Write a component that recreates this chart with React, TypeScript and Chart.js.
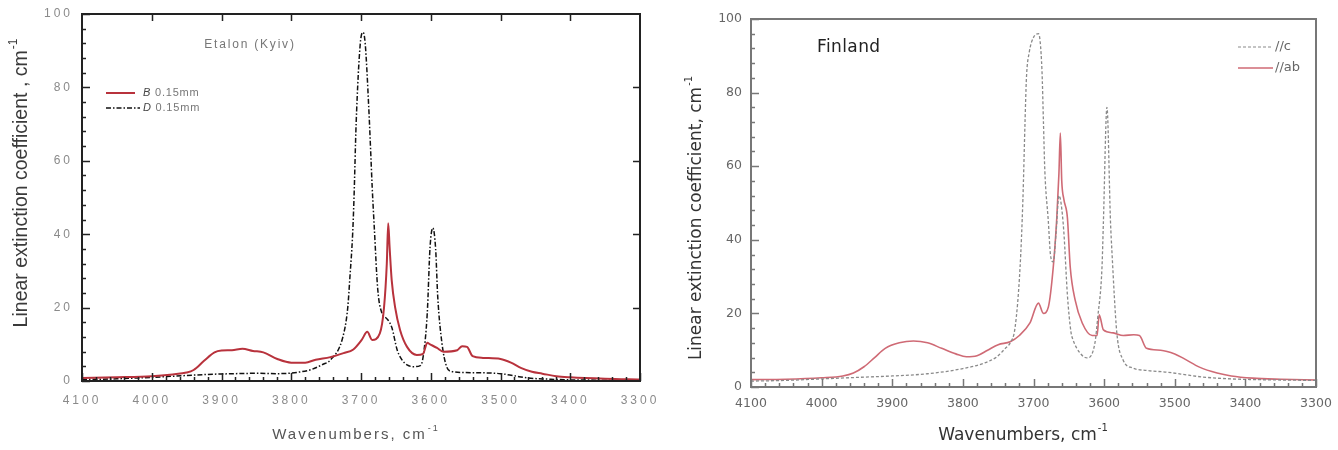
import React, { useEffect, useRef } from "react";
import { Chart, registerables } from "chart.js";
Chart.register(...registerables);

// ---------- Data: left panel "Etalon (Kyiv)" ----------
const leftWaveB = [4100, 4050, 4000, 3970, 3950, 3940, 3925, 3910, 3900, 3885, 3870, 3855, 3840, 3820, 3800, 3780, 3765, 3744, 3725, 3711, 3699, 3691, 3684, 3673, 3667, 3663, 3661, 3659, 3656, 3651, 3644, 3634, 3620, 3611, 3605, 3601, 3591, 3582, 3562, 3555, 3548, 3540, 3525, 3500, 3485, 3470, 3455, 3440, 3420, 3400, 3350, 3300];
const leftB = [0.8, 1.0, 1.3, 1.8, 2.3, 3.0, 5.5, 7.8, 8.3, 8.4, 8.8, 8.2, 7.8, 6.0, 5.0, 5.0, 5.8, 6.5, 7.6, 8.6, 11.2, 13.4, 11.2, 13, 20, 32, 43, 36.5, 27.5, 20, 13.9, 9.3, 7.1, 7.4, 10.4, 10, 9, 8, 8.4, 9.5, 9.3, 6.8, 6.3, 6.0, 5.0, 3.5, 2.5, 2.0, 1.3, 1.0, 0.6, 0.4];
const leftWaveD = [4100, 4050, 4000, 3950, 3920, 3880, 3850, 3820, 3790, 3770, 3755, 3744, 3726, 3719, 3716, 3712, 3710, 3707, 3701, 3697, 3694, 3689, 3686, 3684, 3681, 3676, 3670, 3663, 3656, 3648, 3641, 3634, 3625, 3615, 3611, 3605, 3601, 3597, 3593, 3590, 3584, 3577, 3570, 3550, 3520, 3500, 3480, 3460, 3430, 3400, 3300];
const leftD = [0.4, 0.6, 1.0, 1.5, 1.8, 2.0, 2.1, 2.0, 2.4, 3.2, 4.5, 5.7, 12, 20, 28, 40, 50, 70, 92, 95, 92, 75, 62, 53, 42, 25, 18.5, 17, 14.7, 8.4, 5.7, 4.4, 3.9, 4.2, 6.5, 18.5, 36.5, 41.7, 36, 23, 10.4, 3.8, 2.6, 2.3, 2.2, 2.0, 1.4, 0.8, 0.5, 0.3, 0.2];

// ---------- Data: right panel "Finland" ----------
const rightWaveC = [4100, 4050, 4000, 3950, 3900, 3850, 3800, 3770, 3752, 3740, 3733, 3726, 3719, 3715, 3712, 3710, 3706, 3700, 3693, 3688, 3686, 3684, 3679, 3676, 3672, 3668, 3664, 3661, 3657, 3652, 3647, 3644, 3634, 3624, 3613, 3609, 3603, 3601, 3596, 3591, 3589, 3582, 3573, 3560, 3540, 3510, 3480, 3460, 3420, 3350, 3300];
const rightC = [1.6, 1.8, 2.2, 2.6, 3.0, 3.6, 5.0, 6.5, 8.2, 10.5, 12, 16.3, 32.6, 51, 72, 84, 91, 95, 96, 86, 72.5, 59, 45, 36, 34, 42, 52, 50, 42, 25, 15, 12.8, 9.2, 7.9, 12, 19, 32.6, 45, 76, 45, 37, 14.7, 7.3, 5.2, 4.5, 4, 3.2, 2.7, 2.2, 1.9, 1.8];
const rightWaveAB = [4100, 4050, 4000, 3970, 3955, 3940, 3925, 3910, 3890, 3870, 3850, 3830, 3810, 3795, 3780, 3765, 3750, 3733, 3720, 3705, 3693, 3686, 3679, 3672, 3667, 3664, 3662, 3660, 3657, 3652, 3648, 3641, 3631, 3617, 3610, 3607, 3601, 3587, 3573, 3558, 3550, 3540, 3520, 3500, 3485, 3465, 3440, 3420, 3390, 3350, 3300];
const rightAB = [2.0, 2.1, 2.5, 3.0, 3.8, 5.5, 8, 10.5, 12, 12.5, 12, 10.5, 9, 8.2, 8.5, 10, 11.5, 12.3, 14, 17.4, 22.8, 20, 21.7, 32.6, 46, 58, 69, 56, 51, 46, 32.6, 23.6, 17.4, 14, 14, 19.6, 15.5, 14.7, 14, 14.2, 14, 10.5, 10, 9, 7.5, 5.4, 3.8, 3, 2.4, 2.1, 1.9];

// ---------- Axes / labels ----------
const xMin = 3300;
const xMax = 4100;
const xStep = 100;
const yMin = 0;
const yMax = 100;
const yStep = 20;
const leftTitle = "Etalon (Kyiv)";
const rightTitle = "Finland";
const leftYTitle = "Linear extinction coefficient , cm";
const rightYTitle = "Linear extinction coefficient, cm";
const xTitle = "Wavenumbers, cm";
const unitSup = "-1";
const leftLabels = ["B 0.15mm", "D 0.15mm"];
const rightLabels = ["//c", "//ab"];

const FONT_L = '"Liberation Sans", Arial, sans-serif';
const FONT_R = '"DejaVu Sans", Verdana, sans-serif';

function pts(w: number[], v: number[]) {
  return w.map((x, i) => ({ x, y: v[i] }));
}

function drawSupText(ctx: CanvasRenderingContext2D, text: string, sup: string, x: number, y: number, size: number, family: string, color: string, spacing: string, rotate: boolean) {
  ctx.save();
  ctx.translate(x, y);
  if (rotate) ctx.rotate(-Math.PI / 2);
  ctx.fillStyle = color;
  (ctx as any).letterSpacing = spacing;
  const mainFont = `${size}px ${family}`;
  const supFont = `${Math.round(size * 0.6)}px ${family}`;
  ctx.font = mainFont;
  const w1 = ctx.measureText(text).width;
  ctx.font = supFont;
  const w2 = ctx.measureText(sup).width;
  const total = w1 + w2 + 1;
  ctx.textBaseline = "middle";
  ctx.textAlign = "left";
  ctx.font = mainFont;
  ctx.fillText(text, -total / 2, 0);
  ctx.font = supFont;
  ctx.fillText(sup, -total / 2 + w1 + 1, -size * 0.45);
  ctx.restore();
}

type PanelCfg = {
  width: number;
  area: { left: number; top: number; right: number; bottom: number };
  datasets: any[];
  tickColor: string;
  tickFont: number;
  tickFamily: string;
  tickSpacing: string;
  frameColor: string;
  topRightTicks: boolean;
  xLabelPad: number;
  yLabelPad: number;
  decorate: (ctx: CanvasRenderingContext2D, chart: any) => void;
};

function Panel({ cfg }: { cfg: PanelCfg }) {
  const ref = useRef<HTMLCanvasElement | null>(null);
  useEffect(() => {
    const canvas = ref.current!;
    const H = 450;
    const a = cfg.area;
    const plugin = {
      id: "frameTicks",
      beforeDraw(chart: any) {
        (chart.ctx as any).letterSpacing = cfg.tickSpacing;
      },
      afterDraw(chart: any) {
        const ctx: CanvasRenderingContext2D = chart.ctx;
        const ca = chart.chartArea;
        const xs = chart.scales.x;
        const ys = chart.scales.y;
        ctx.save();
        (ctx as any).letterSpacing = "0px";
        ctx.strokeStyle = cfg.frameColor;
        ctx.lineWidth = 2;
        ctx.strokeRect(ca.left, ca.top, ca.right - ca.left, ca.bottom - ca.top);
        ctx.lineWidth = 1.5;
        ctx.beginPath();
        for (let v = xMin; v <= xMax; v += 20) {
          const px = Math.round(xs.getPixelForValue(v)) + 0.5;
          const major = v % xStep === 0;
          ctx.moveTo(px, ca.bottom);
          ctx.lineTo(px, ca.bottom - (major ? 8 : 4));
          if (cfg.topRightTicks && major && v !== xMin && v !== xMax) {
            ctx.moveTo(px, ca.top);
            ctx.lineTo(px, ca.top + 7);
          }
        }
        for (let v = yMin; v <= yMax; v += 4) {
          const py = Math.round(ys.getPixelForValue(v)) + 0.5;
          const major = v % yStep === 0;
          ctx.moveTo(ca.left, py);
          ctx.lineTo(ca.left + (major ? 8 : 4), py);
          if (cfg.topRightTicks && major && v !== yMin && v !== yMax) {
            ctx.moveTo(ca.right, py);
            ctx.lineTo(ca.right - 7, py);
          }
        }
        ctx.stroke();
        ctx.restore();
        ctx.save();
        (ctx as any).letterSpacing = "0px";
        cfg.decorate(ctx, chart);
        ctx.restore();
      },
    };
    const chart = new Chart(canvas, {
      type: "line",
      data: { datasets: cfg.datasets },
      options: {
        responsive: false,
        animation: false,
        devicePixelRatio: 1,
        layout: { padding: { left: 0, top: a.top, right: cfg.width - a.right, bottom: 0 } },
        plugins: { legend: { display: false }, title: { display: false }, tooltip: { enabled: false } },
        elements: { point: { radius: 0 } },
        scales: {
          x: {
            type: "linear",
            reverse: true,
            min: xMin,
            max: xMax,
            grid: { display: false, drawTicks: false },
            border: { display: false },
            ticks: { stepSize: xStep, color: cfg.tickColor, padding: cfg.xLabelPad, maxRotation: 0, font: { family: cfg.tickFamily, size: cfg.tickFont }, callback: (v: any) => String(v) },
            afterFit: (s: any) => { s.height = H - a.bottom; s.paddingLeft = 0; s.paddingRight = 0; },
          },
          y: {
            type: "linear",
            min: yMin,
            max: yMax,
            grid: { display: false, drawTicks: false },
            border: { display: false },
            ticks: { stepSize: yStep, color: cfg.tickColor, padding: cfg.yLabelPad, font: { family: cfg.tickFamily, size: cfg.tickFont }, callback: (v: any) => String(v) },
            afterFit: (s: any) => { s.width = a.left; s.paddingTop = 0; s.paddingBottom = 0; },
          },
        },
      },
      plugins: [plugin],
    } as any);
    return () => chart.destroy();
  }, []);
  return <canvas ref={ref} width={cfg.width} height={450} style={{ display: "block", width: cfg.width, height: 450 }} />;
}

const leftCfg: PanelCfg = {
  width: 660,
  area: { left: 82, top: 14, right: 640, bottom: 381 },
  tickColor: "#8a8a8a",
  tickFont: 12,
  tickFamily: FONT_L,
  tickSpacing: "3px",
  frameColor: "#222",
  topRightTicks: true,
  xLabelPad: 12,
  yLabelPad: 9,
  datasets: [
    { label: leftLabels[0], data: pts(leftWaveB, leftB), borderColor: "#b8323c", borderWidth: 2, cubicInterpolationMode: "monotone", pointRadius: 0 },
    { label: leftLabels[1], data: pts(leftWaveD, leftD), borderColor: "#111", borderWidth: 1.5, borderDash: [5, 2, 1.5, 2], cubicInterpolationMode: "monotone", pointRadius: 0 },
  ],
  decorate: (ctx) => {
    drawSupText(ctx, leftYTitle, unitSup, 22, 183, 19.5, FONT_L, "#3a3a3a", "0px", true);
    drawSupText(ctx, xTitle, unitSup, 356, 435, 15, FONT_L, "#555", "2px", false);
    ctx.fillStyle = "#777";
    ctx.font = `12px ${FONT_L}`;
    (ctx as any).letterSpacing = "1.8px";
    ctx.textAlign = "center";
    ctx.textBaseline = "middle";
    ctx.fillText(leftTitle, 250, 45);
    // legend
    (ctx as any).letterSpacing = "0.8px";
    ctx.textAlign = "left";
    ctx.strokeStyle = "#b8323c";
    ctx.lineWidth = 2;
    ctx.beginPath(); ctx.moveTo(106, 93); ctx.lineTo(135, 93); ctx.stroke();
    ctx.strokeStyle = "#111";
    ctx.lineWidth = 1.5;
    ctx.setLineDash([5, 2, 1.5, 2]);
    ctx.beginPath(); ctx.moveTo(106, 108); ctx.lineTo(140, 108); ctx.stroke();
    ctx.setLineDash([]);
    const rows: [string, number][] = [[leftLabels[0], 93], [leftLabels[1], 108]];
    rows.forEach(([lab, y]) => {
      const first = lab.slice(0, 1);
      const rest = lab.slice(1);
      ctx.fillStyle = "#444";
      ctx.font = `italic 11px ${FONT_L}`;
      ctx.fillText(first, 143, y);
      const w = ctx.measureText(first).width;
      ctx.fillStyle = "#777";
      ctx.font = `11px ${FONT_L}`;
      ctx.fillText(rest, 143 + w, y);
    });
  },
};

const rightCfg: PanelCfg = {
  width: 678,
  area: { left: 91, top: 19, right: 656, bottom: 387 },
  tickColor: "#666",
  tickFont: 12.5,
  tickFamily: FONT_R,
  tickSpacing: "0px",
  frameColor: "#777",
  topRightTicks: false,
  xLabelPad: 9,
  yLabelPad: 9,
  datasets: [
    { label: rightLabels[0], data: pts(rightWaveC, rightC), borderColor: "#8a8a8a", borderWidth: 1.3, borderDash: [3, 2], cubicInterpolationMode: "monotone", pointRadius: 0 },
    { label: rightLabels[1], data: pts(rightWaveAB, rightAB), borderColor: "#cf6a75", borderWidth: 1.6, cubicInterpolationMode: "monotone", pointRadius: 0 },
  ],
  decorate: (ctx) => {
    drawSupText(ctx, rightYTitle, unitSup, 37, 218, 17, FONT_R, "#333", "0px", true);
    drawSupText(ctx, xTitle, unitSup, 363, 436, 17, FONT_R, "#333", "0px", false);
    ctx.fillStyle = "#222";
    ctx.font = `17px ${FONT_R}`;
    (ctx as any).letterSpacing = "0.4px";
    ctx.textAlign = "left";
    ctx.textBaseline = "middle";
    ctx.fillText(rightTitle, 157, 48);
    (ctx as any).letterSpacing = "0px";
    // legend
    ctx.strokeStyle = "#8a8a8a";
    ctx.lineWidth = 1.2;
    ctx.setLineDash([3, 2]);
    ctx.beginPath(); ctx.moveTo(578, 47); ctx.lineTo(613, 47); ctx.stroke();
    ctx.setLineDash([]);
    ctx.strokeStyle = "#cf6a75";
    ctx.lineWidth = 1.6;
    ctx.beginPath(); ctx.moveTo(578, 68); ctx.lineTo(613, 68); ctx.stroke();
    ctx.fillStyle = "#666";
    ctx.font = `13px ${FONT_R}`;
    ctx.fillText(rightLabels[0], 615, 47);
    ctx.fillText(rightLabels[1], 615, 68);
  },
};

export default function App() {
  return (
    <div style={{ position: "absolute", left: 0, top: 0, width: 1338, height: 450, background: "#fff", display: "flex" }}>
      <Panel cfg={leftCfg} />
      <Panel cfg={rightCfg} />
    </div>
  );
}
